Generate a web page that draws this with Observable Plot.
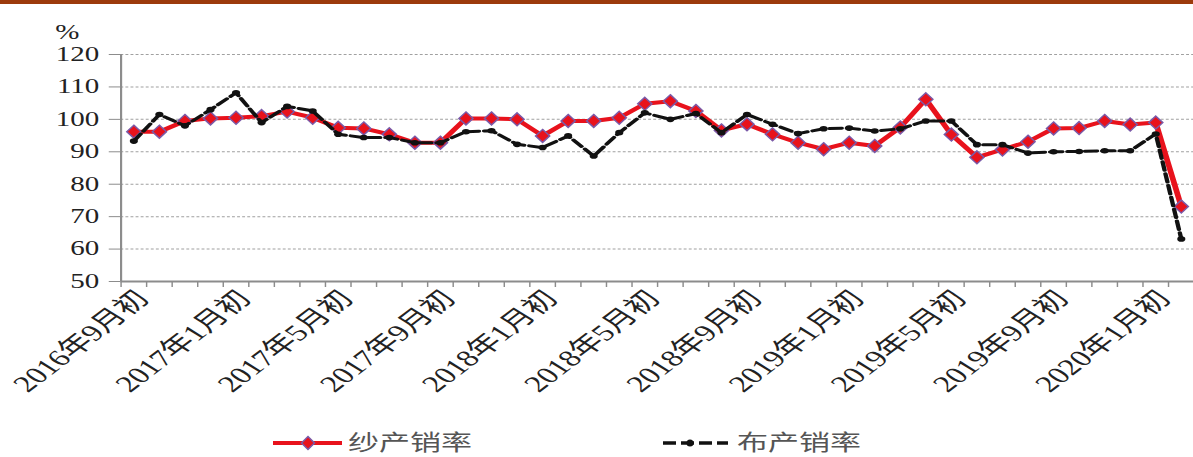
<!DOCTYPE html>
<html>
<head>
<meta charset="utf-8">
<script src="https://cdn.jsdelivr.net/npm/d3@7"></script>
<script src="https://cdn.jsdelivr.net/npm/@observablehq/plot@0.6"></script>
<style>
  html { overflow: hidden; }
  html, body { margin: 0; padding: 0; background: #fff; }
  body { width: 1193px; height: 457px; position: relative; }
  #topbar { position: absolute; left: 0; top: 0; width: 1193px; height: 4px; background: #9c3a0c; }
  #wrap { position: absolute; left: 0; top: 4px; width: 823px; height: 411px; transform: scaleX(1.45); transform-origin: 0 0; }
  #legend { position: absolute; left: 0; top: 415px; width: 1193px; height: 42px; }
  #legend text { font-family: "Noto Sans CJK SC", sans-serif; font-size: 22px; fill: #555; }
</style>
</head>
<body>
<div id="topbar"></div>
<div id="wrap"><div id="chart"></div></div>
<svg id="legend" width="1193" height="42" viewBox="0 0 1193 42">
  <line x1="273" y1="28" x2="342" y2="28" stroke="#e8121c" stroke-width="4"></line>
  <path d="M308,21.5 L314.5,28 L308,34.5 L301.5,28 Z" fill="#e8121c" stroke="#7a5aa8" stroke-width="1.5"></path>
  <text x="348" y="35" textLength="124" lengthAdjust="spacingAndGlyphs">纱产销率</text>
  <line x1="663" y1="28" x2="728" y2="28" stroke="#111" stroke-width="3.5" stroke-dasharray="13,5"></line>
  <circle cx="690" cy="28" r="3.5" fill="#111"></circle>
  <text x="737" y="35" textLength="124" lengthAdjust="spacingAndGlyphs">布产销率</text>
</svg>
<script>
const months = [
  "2016年9月初","2016年10月初","2016年11月初","2016年12月初",
  "2017年1月初","2017年2月初","2017年3月初","2017年4月初",
  "2017年5月初","2017年6月初","2017年7月初","2017年8月初",
  "2017年9月初","2017年10月初","2017年11月初","2017年12月初",
  "2018年1月初","2018年2月初","2018年3月初","2018年4月初",
  "2018年5月初","2018年6月初","2018年7月初","2018年8月初",
  "2018年9月初","2018年10月初","2018年11月初","2018年12月初",
  "2019年1月初","2019年2月初","2019年3月初","2019年4月初",
  "2019年5月初","2019年6月初","2019年7月初","2019年8月初",
  "2019年9月初","2019年10月初","2019年11月初","2019年12月初",
  "2020年1月初","2020年2月初"
];
// 纱产销率 (%)
const yarnRate = [
  96.2, 96.2, 99.5, 100.3, 100.5, 101.0, 102.4, 100.5, 97.4, 97.2,
  95.4, 92.8, 92.8, 100.3, 100.3, 100.0, 94.9, 99.5, 99.5, 100.5,
  104.8, 105.6, 102.6, 96.6, 98.5, 95.4, 92.8, 90.8, 92.8, 91.8,
  97.5, 106.2, 95.3, 88.3, 90.7, 93.1, 97.2, 97.3, 99.5, 98.4,
  99.0, 73.1
];
// 布产销率 (%)
const clothRate = [
  93.3, 101.5, 98.0, 103.0, 108.2, 99.0, 104.0, 102.6, 95.4, 94.4,
  94.4, 92.8, 92.8, 96.2, 96.5, 92.3, 91.3, 94.9, 88.7, 95.9,
  102.0, 100.0, 101.8, 95.9, 101.5, 98.5, 95.6, 97.1, 97.3, 96.4,
  97.1, 99.5, 99.5, 92.2, 92.2, 89.6, 90.0, 90.1, 90.3, 90.3,
  95.5, 63.1
];
const yTicks = [50, 60, 70, 80, 90, 100, 110, 120];
const gridValues = [60, 70, 80, 90, 100, 110, 120];
const labelEvery = 4;

const data = months.map((m, i) => ({i, month: m, yarn: yarnRate[i], cloth: clothRate[i]}));
const labelIdx = months.map((_, i) => i).filter(i => i % labelEvery === 0);
const boundaries = d3.range(-0.5, months.length, 1);

const red = "#e8121c";
const axisGray = "#8c8c8c";
const diamondSym = {
  draw(ctx, size) {
    const r = Math.sqrt(size / Math.PI);
    const w = r * 0.75;
    ctx.moveTo(0, -r); ctx.lineTo(w, 0); ctx.lineTo(0, r); ctx.lineTo(-w, 0); ctx.closePath();
  }
};

const chart = Plot.plot({
  width: 823,
  height: 411,
  marginLeft: 83,
  marginRight: 0,
  marginTop: 50,
  marginBottom: 134,
  style: {fontFamily: "'Liberation Serif', 'Noto Sans CJK SC', serif", color: "#222", background: "transparent", overflow: "visible"},
  x: {type: "linear", domain: [-0.5, months.length - 0.5]},
  y: {domain: [50, 120]},
  marks: [
    Plot.ruleY(gridValues, {stroke: "#a0a0a0", strokeWidth: 1, strokeDasharray: "2,1.5"}),
    Plot.axisY({ticks: yTicks, tickSize: 8, tickPadding: 7, fontSize: 20, stroke: axisGray, label: null, tickFormat: d => String(d)}),
    Plot.axisX({ticks: boundaries, tickSize: 6, tickFormat: () => "", stroke: axisGray, label: null}),
    Plot.axisX({ticks: labelIdx, tickSize: 0, tickPadding: 13, tickRotate: -48, fontSize: 23, dx: 6, tickFormat: d => months[d], label: null}),
    Plot.ruleX([-0.5], {y1: 50, y2: 120, stroke: axisGray, strokeWidth: 1.5}),
    Plot.ruleY([50], {stroke: axisGray, strokeWidth: 2}),
    Plot.line(data, {x: "i", y: "yarn", stroke: red, strokeWidth: 4}),
    Plot.dot(data, {x: "i", y: "yarn", symbol: diamondSym, r: 6.5, fill: red, stroke: "#7a5aa8", strokeWidth: 1.2}),
    Plot.line(data, {x: "i", y: "cloth", stroke: "#111", strokeWidth: 3, strokeDasharray: "8.5,3.5"}),
    Plot.dot(data, {x: "i", y: "cloth", r: 2.8, fill: "#111"}),
    Plot.text(["%"], {frameAnchor: "top-left", dx: -37, dy: -30, fontSize: 20, textAnchor: "middle", fill: "#222"})
  ]
});
document.getElementById("chart").appendChild(chart);
</script>
</body>
</html>
